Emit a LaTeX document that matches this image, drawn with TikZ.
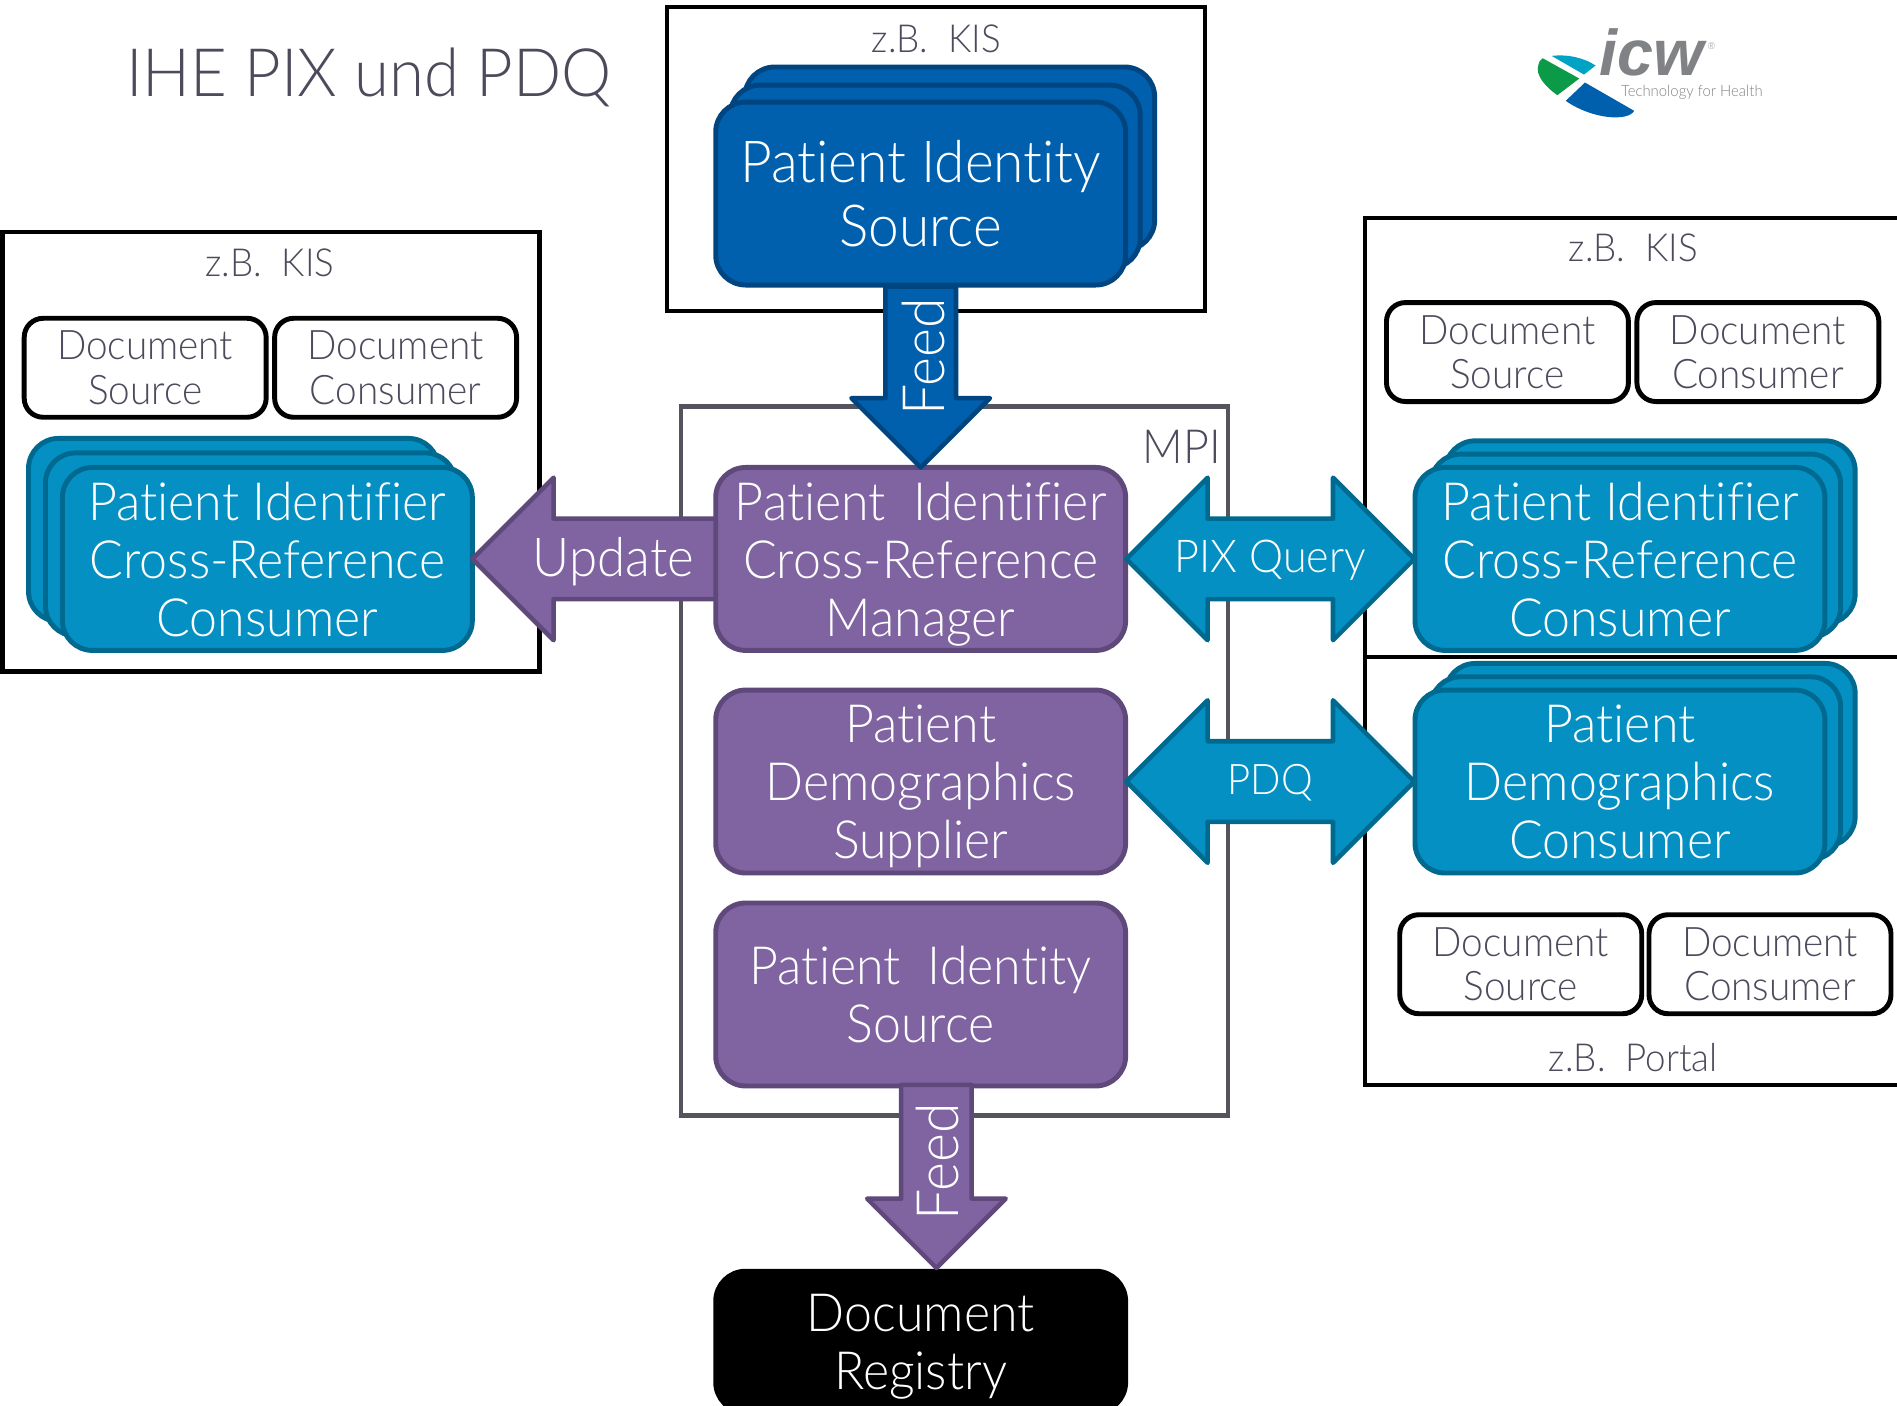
\documentclass[tikz,border=0pt]{standalone}
\usepackage{fontspec}
\setmainfont{Lato}[UprightFont=* Light,FakeStretch=0.95,Ligatures=NoCommon]
\newfontfamily\logofont{Liberation Sans}
\usepackage{xcolor}
\usetikzlibrary{shapes.arrows}

\definecolor{inktext}{HTML}{4B4B5C}
\definecolor{mpigrey}{HTML}{54545F}
\definecolor{idblue}{HTML}{0060AE}
\definecolor{idblueline}{HTML}{00457F}
\definecolor{tealfill}{HTML}{0490C2}
\definecolor{tealline}{HTML}{00698F}
\definecolor{violetfill}{HTML}{8064A2}
\definecolor{violetline}{HTML}{5F497A}
\definecolor{logogrey}{HTML}{808285}
\definecolor{logogreen}{HTML}{0A9A48}
\definecolor{logoteal}{HTML}{00A3C4}

\tikzset{
    sysframe/.style={draw=black,line width=1.2pt,fill=white},
    caption/.style={text=inktext,font=\fontsize{11}{12.7}\selectfont,align=center},
    docbox/.style={draw=black,line width=1.4pt,fill=white,rounded corners=1.9mm,
        minimum width=24.2mm,minimum height=9.9mm,inner sep=0pt,outer sep=0pt,
        text=inktext,font=\fontsize{11.6}{12.7}\selectfont,align=center,text depth=0pt},
    actor/.style={line width=1.4pt,rounded corners=3mm,minimum width=41mm,minimum height=18.3mm,
        inner sep=0pt,outer sep=0pt,text=white,align=center,font=\fontsize{15}{16.5}\selectfont,text depth=0pt},
    tealactor/.style={actor,draw=tealline,fill=tealfill},
    violetactor/.style={actor,draw=violetline,fill=violetfill},
    blueactor/.style={actor,draw=idblueline,fill=idblue,font=\fontsize{16.5}{18.2}\selectfont},
    flowarrow/.style={single arrow,line width=1.3pt,line join=round,outer sep=0pt,anchor=tip},
    queryarrow/.style={double arrow,draw=tealline,fill=tealfill,line width=1.3pt,line join=round,
        inner sep=3.8mm,outer sep=0pt,minimum width=16mm,minimum height=28.8mm,double arrow head extend=4.1mm},
    flowlabel/.style={text=white,font=\fontsize{15.3}{16.5}\selectfont},
}

\begin{document}
\begin{tikzpicture}[x=0.121mm,y=-0.121mm]
    \clip (0,0) rectangle (1568,1162);
    \fill[white] (0,0) rectangle (1568,1162);

    \node[text=inktext,font=\fontsize{19}{24}\selectfont] (title) at (305,64) {IHE PIX und PDQ};

    % system frames
    \draw[sysframe] (551,6) rectangle (996,257);
    \draw[sysframe] (2,192) rectangle (446,555);
    \draw[sysframe] (1128,180) rectangle (1580,543);
    \draw[sysframe] (1128,543) rectangle (1580,897);
    \draw[mpigrey,line width=1.3pt,fill=white] (563,336) rectangle (1015,922);

    \node[caption] (kistop) at (774,32) {z.B.\ \ KIS};
    \node[caption] (kisleft) at (223,217) {z.B.\ \ KIS};
    \node[caption] (kisright) at (1350,205) {z.B.\ \ KIS};
    \node[caption] (portal) at (1350,874) {z.B.\ \ Portal};
    \node[text=inktext,font=\fontsize{13.4}{16}\selectfont] (mpi) at (977,369) {MPI};

    % document actors
    \node[docbox] (srcleft) at (120,304) {Document\\Source};
    \node[docbox] (conleft) at (327,304) {Document\\Consumer};
    \node[docbox] (srcright) at (1246,291) {Document\\Source};
    \node[docbox] (conright) at (1453,291) {Document\\Consumer};
    \node[docbox] (srcportal) at (1257,797) {Document\\Source};
    \node[docbox] (conportal) at (1463,797) {Document\\Consumer};

    % stacked actors
    \node[blueactor] (pisback) at (785,131) {};
    \node[blueactor] (pismid) at (773,146) {};
    \node[blueactor] (pis) at (761,160) {Patient Identity\\Source};

    \node[tealactor] (xrefleftback) at (193,438) {};
    \node[tealactor] (xrefleftmid) at (207,450) {};
    \node[tealactor] (xrefleft) at (221,462) {Patient Identifier\\Cross-Reference\\Consumer};

    \node[tealactor] (xrefrightback) at (1364,440) {};
    \node[tealactor] (xrefrightmid) at (1352,451) {};
    \node[tealactor] (xrefright) at (1339,462) {Patient Identifier\\Cross-Reference\\Consumer};

    \node[tealactor] (demoback) at (1364,624) {};
    \node[tealactor] (demomid) at (1352,635) {};
    \node[tealactor] (demo) at (1339,646) {Patient\\Demographics\\Consumer};

    % update arrow runs behind the manager
    \node[flowarrow,draw=violetline,fill=violetfill,shape border rotate=180,inner sep=3.8mm,
        minimum width=16mm,minimum height=24.4mm,single arrow head extend=4.1mm] (update) at (xrefleft.east) {};

    \node[violetactor] (manager) at (761,462) {Patient\ \ Identifier\\Cross-Reference\\Manager};
    \node[violetactor] (supplier) at (761,646) {Patient\\Demographics\\Supplier};
    \node[violetactor] (mpisource) at (761,822) {Patient\ \ Identity\\Source};
    \node[actor,draw=black,fill=black,minimum height=14.1mm] (registry) at (761,1109) {Document\\Registry};

    \node[flowarrow,draw=idblueline,fill=idblue,shape border rotate=270,inner sep=3.3mm,
        minimum width=13.4mm,minimum height=18.1mm,single arrow head extend=3.4mm] (feedtop) at (manager.north) {};
    \node[flowarrow,draw=violetline,fill=violetfill,shape border rotate=270,inner sep=3.3mm,
        minimum width=13.4mm,minimum height=18.3mm,single arrow head extend=3.4mm] (feedbottom) at (774,1048) {};
    \node[queryarrow] (pixquery) at (1050,462) {};
    \node[queryarrow] (pdq) at (1050,646) {};

    \node[flowlabel,font=\fontsize{16.6}{18}\selectfont,rotate=90] (feedtoplabel) at (763,295) {Feed};
    \node[flowlabel,font=\fontsize{16.6}{18}\selectfont,rotate=90] (feedbottomlabel) at (775,960) {Feed};
    \node[flowlabel] (updatelabel) at (507,464) {Update};
    \node[flowlabel,font=\fontsize{12.9}{15}\selectfont] (pixlabel) at (1050,463) {PIX Query};
    \node[flowlabel,font=\fontsize{12}{15}\selectfont] (pdqlabel) at (1050,647) {PDQ};

    % logo
    \begin{scope}[shift={(1223.4,0)},x=0.0333mm,y=-0.0333mm]
        \fill[logogreen] (188,175) -- (298,236) -- (232,286) .. controls (195,260) and (165,225) .. (175,195) .. controls (177,185) and (180,180) .. (188,175) -- cycle;
        \fill[logoteal] (215,168) .. controls (265,162) and (315,175) .. (347,197) -- (312,224) -- cycle;
        \fill[idblue] (315,248) -- (463,333) .. controls (445,365) and (340,360) .. (257,303) -- cycle;
        \node[inner sep=0pt,text depth=0pt,text=logogrey,font=\logofont\bfseries\itshape\fontsize{18.4}{20}\selectfont] (icw) at (514,155) {icw};
        \node[inner sep=0pt,text=logogrey,font=\fontsize{2.8}{3}\selectfont] (regmark) at (695,137) {\textregistered};
        \node[inner sep=0pt,text=logogrey,font=\fontsize{4.45}{6}\selectfont] (claim) at (636,277) {Technology for Health};
    \end{scope}
\end{tikzpicture}
\end{document}
